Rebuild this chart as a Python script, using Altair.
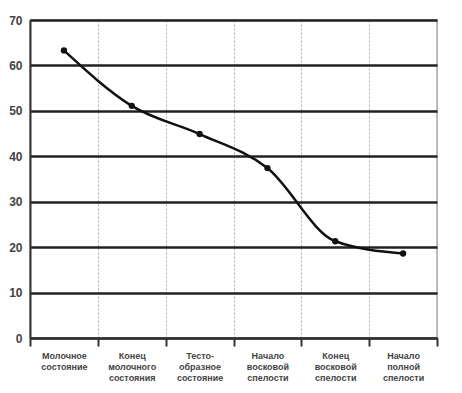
import altair as alt
import pandas as pd

stages = [
    "Молочное|состояние",
    "Конец|молочного|состояния",
    "Тесто-|образное|состояние",
    "Начало|восковой|спелости",
    "Конец|восковой|спелости",
    "Начало|полной|спелости",
]
values = [63.3, 51.1, 44.9, 37.4, 21.3, 18.6]

df = pd.DataFrame({"stage": stages, "value": values})

x = alt.X(
    "stage:N",
    sort=stages,
    title=None,
    scale=alt.Scale(type="band", paddingInner=0, paddingOuter=0),
    axis=alt.Axis(
        labelExpr="split(datum.label, '|')",
        labelAngle=0,
        labelFont="Liberation Sans",
        labelFontSize=9,
        labelFontWeight="bold",
        labelColor="#444",
        labelLineHeight=11,
        labelPadding=5,
        tickBand="extent",
        ticks=True,
        tickSize=8,
        tickWidth=2,
        tickColor="#333",
        grid=True,
        gridDash=[2, 2],
        gridColor="#aaa",
        gridWidth=1,
        domain=True,
        domainColor="#333",
        domainWidth=2,
    ),
)

y = alt.Y(
    "value:Q",
    title=None,
    scale=alt.Scale(domain=[0, 70], nice=False),
    axis=alt.Axis(
        values=[0, 10, 20, 30, 40, 50, 60, 70],
        labelFont="Liberation Sans",
        labelFontSize=12,
        labelFontWeight="bold",
        labelColor="#444",
        labelPadding=8,
        ticks=False,
        grid=True,
        gridColor="#222",
        gridWidth=2.5,
        domain=True,
        domainColor="#333",
        domainWidth=2,
    ),
)

base = alt.Chart(df).encode(x=x, y=y)

line = base.mark_line(color="#111", strokeWidth=2.5, interpolate="monotone")
pts = base.mark_circle(color="#111", size=40, opacity=1)

chart = (
    (line + pts)
    .properties(width=407, height=318, padding={"left": 0, "top": 6, "right": 10, "bottom": 5})
    .configure_view(stroke="#aaa", strokeWidth=1.5)
)

chart.save("out.html", embed_options={"renderer": "svg", "actions": False})
